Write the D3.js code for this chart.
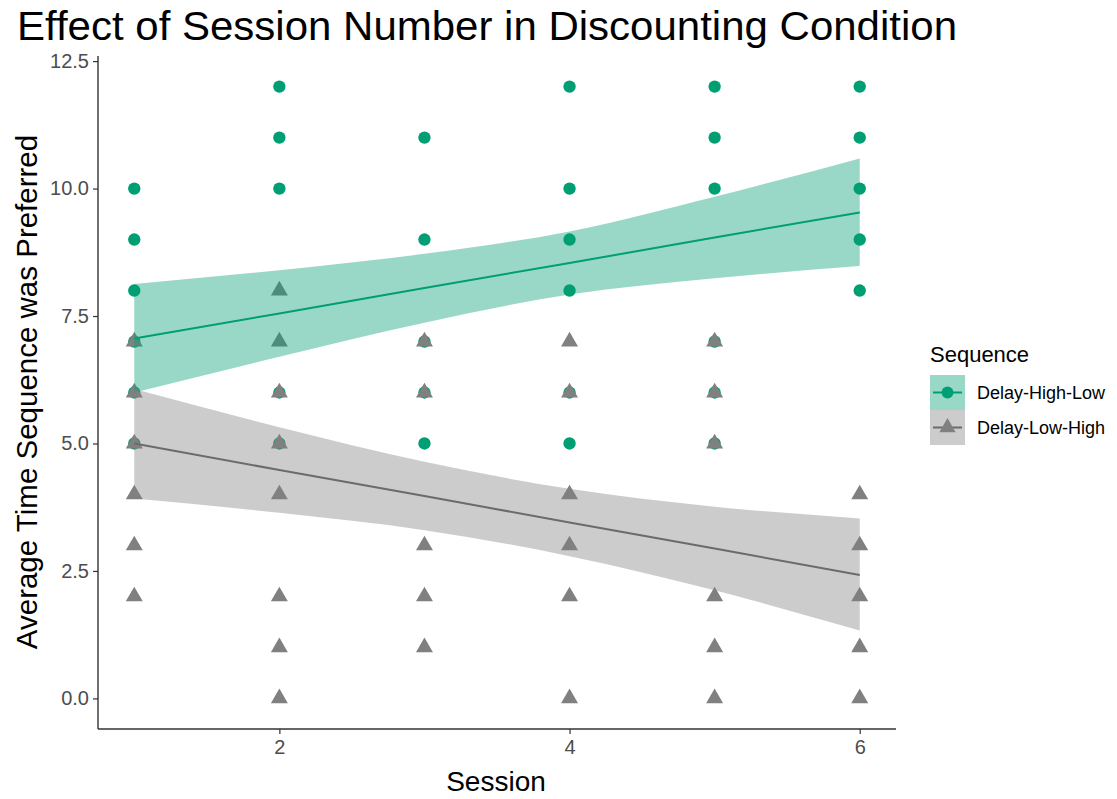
<!DOCTYPE html>
<html>
<head>
<meta charset="utf-8">
<script src="https://cdn.jsdelivr.net/npm/d3@7"></script>
<style>
  html, body { margin: 0; padding: 0; background: #ffffff; }
  svg { display: block; font-family: "Liberation Sans", Arial, sans-serif; }
</style>
</head>
<body>
<svg id="chart" width="1117" height="799"></svg>
<script>
// ---------- data ----------
const seriesNames = ["Delay-High-Low", "Delay-Low-High"];
const sessions = [1, 2, 3, 4, 5, 6];

// observed points (session, value) for each series
const highLowSessions = [1,1,1,1,1,1, 2,2,2,2,2, 3,3,3,3,3, 4,4,4,4,4,4, 5,5,5,5,5,5, 6,6,6,6,6];
const highLowValues   = [10,9,8,7,6,5, 12,11,10,6,5, 11,9,7,6,5, 12,10,9,8,6,5, 12,11,10,7,6,5, 12,11,10,9,8];

const lowHighSessions = [1,1,1,1,1,1, 2,2,2,2,2,2,2,2, 3,3,3,3,3, 4,4,4,4,4,4, 5,5,5,5,5,5, 6,6,6,6,6];
const lowHighValues   = [7,6,5,4,3,2, 8,7,6,5,4,2,1,0, 7,6,3,2,1, 7,6,4,3,2,0, 7,6,5,2,1,0, 4,3,2,1,0];

// fitted linear trend with confidence band, read at each session
const highLowFit   = [7.06, 7.55, 8.05, 8.54, 9.04, 9.53];
const highLowLower = [6.00, 6.70, 7.37, 7.92, 8.24, 8.48];
const highLowUpper = [8.13, 8.40, 8.72, 9.16, 9.84, 10.59];

const lowHighFit   = [5.00, 4.48, 3.97, 3.45, 2.94, 2.42];
const lowHighLower = [3.92, 3.64, 3.30, 2.79, 2.12, 1.33];
const lowHighUpper = [6.07, 5.32, 4.64, 4.11, 3.76, 3.53];

const xTicks = [2, 4, 6];
const yTicks = [0, 2.5, 5, 7.5, 10, 12.5];

const title = "Effect of Session Number in Discounting Condition";
const xLabel = "Session";
const yLabel = "Average Time Sequence was Preferred";
const legendTitle = "Sequence";

// ---------- styles ----------
const colors = { "Delay-High-Low": "#009E73", "Delay-Low-High": "#808080" };
const lineColors = { "Delay-High-Low": "#009E73", "Delay-Low-High": "#6b6b6b" };

const svg = d3.select("#chart");
const panel = { left: 98, right: 896, top: 56, bottom: 729 };

const x = d3.scaleLinear().domain([0.75, 6.25]).range([panel.left, panel.right]);
const y = d3.scaleLinear().domain([-0.6, 12.6]).range([panel.bottom, panel.top]);

const series = [
  { name: seriesNames[0], xs: highLowSessions, ys: highLowValues, fit: highLowFit, lo: highLowLower, hi: highLowUpper, shape: d3.symbolCircle },
  { name: seriesNames[1], xs: lowHighSessions, ys: lowHighValues, fit: lowHighFit, lo: lowHighLower, hi: lowHighUpper, shape: d3.symbolTriangle }
];

// points
series.forEach(s => {
  const sym = d3.symbol().type(s.shape).size(s.shape === d3.symbolCircle ? 120 : 125);
  svg.append("g").selectAll("path")
    .data(s.xs.map((sx, i) => [sx, s.ys[i]]))
    .join("path")
    .attr("d", sym)
    .attr("transform", d => `translate(${x(d[0])},${y(d[1])})`)
    .attr("fill", colors[s.name]);
});

// ribbons + lines
series.forEach(s => {
  const band = sessions.map((sx, i) => ({ x: sx, lo: s.lo[i], hi: s.hi[i], m: s.fit[i] }));
  svg.append("path")
    .datum(band)
    .attr("d", d3.area().x(d => x(d.x)).y0(d => y(d.lo)).y1(d => y(d.hi)).curve(d3.curveMonotoneX))
    .attr("fill", colors[s.name])
    .attr("fill-opacity", 0.4);
});
series.forEach(s => {
  const band = sessions.map((sx, i) => ({ x: sx, m: s.fit[i] }));
  svg.append("path")
    .datum(band)
    .attr("d", d3.line().x(d => x(d.x)).y(d => y(d.m)))
    .attr("fill", "none")
    .attr("stroke", lineColors[s.name])
    .attr("stroke-width", 2);
});

// axes
const fmtY = d3.format(".1f");
const xAxis = svg.append("g")
  .attr("transform", `translate(0,${panel.bottom})`)
  .call(d3.axisBottom(x).tickValues(xTicks).tickSize(5).tickPadding(6).tickFormat(d3.format("d")));
const yAxis = svg.append("g")
  .attr("transform", `translate(${panel.left},0)`)
  .call(d3.axisLeft(y).tickValues(yTicks).tickSize(5).tickPadding(4).tickFormat(fmtY));

[xAxis, yAxis].forEach(g => {
  g.select(".domain").attr("stroke", "#333333").attr("stroke-width", 1.4);
  g.selectAll(".tick line").attr("stroke", "#333333").attr("stroke-width", 1.2);
  g.selectAll(".tick text").attr("fill", "#4d4d4d").attr("font-size", 20)
    .attr("font-family", "Liberation Sans, Arial, sans-serif");
});
// remove the outer tick caps of the domain path
xAxis.select(".domain").attr("d", `M${panel.left},0H${panel.right}`);
yAxis.select(".domain").attr("d", `M0,${panel.top}V${panel.bottom}`);

// titles
svg.append("text")
  .attr("x", 17).attr("y", 40)
  .attr("font-size", 41).attr("fill", "#000")
  .attr("textLength", 940).attr("lengthAdjust", "spacingAndGlyphs")
  .text(title);

svg.append("text")
  .attr("x", 496).attr("y", 791)
  .attr("text-anchor", "middle")
  .attr("font-size", 28).attr("fill", "#000")
  .text(xLabel);

svg.append("text")
  .attr("transform", `translate(37,392) rotate(-90)`)
  .attr("text-anchor", "middle")
  .attr("font-size", 29.5).attr("fill", "#000")
  .text(yLabel);

// legend
const lg = svg.append("g").attr("transform", "translate(930,0)");
lg.append("text").attr("x", 0).attr("y", 362)
  .attr("font-size", 22).attr("fill", "#000").text(legendTitle);

series.forEach((s, i) => {
  const top = 375 + i * 35;
  lg.append("rect").attr("x", 0).attr("y", top).attr("width", 35).attr("height", 35)
    .attr("fill", colors[s.name]).attr("fill-opacity", 0.4);
  lg.append("line").attr("x1", 3).attr("x2", 32).attr("y1", top + 17.5).attr("y2", top + 17.5)
    .attr("stroke", lineColors[s.name]).attr("stroke-width", 2);
  lg.append("path")
    .attr("d", d3.symbol().type(s.shape).size(s.shape === d3.symbolCircle ? 110 : 115)())
    .attr("transform", `translate(17.5,${top + 17.5})`)
    .attr("fill", colors[s.name]);
  lg.append("text").attr("x", 47).attr("y", top + 24)
    .attr("font-size", 18).attr("fill", "#000").text(s.name);
});
</script>
</body>
</html>
